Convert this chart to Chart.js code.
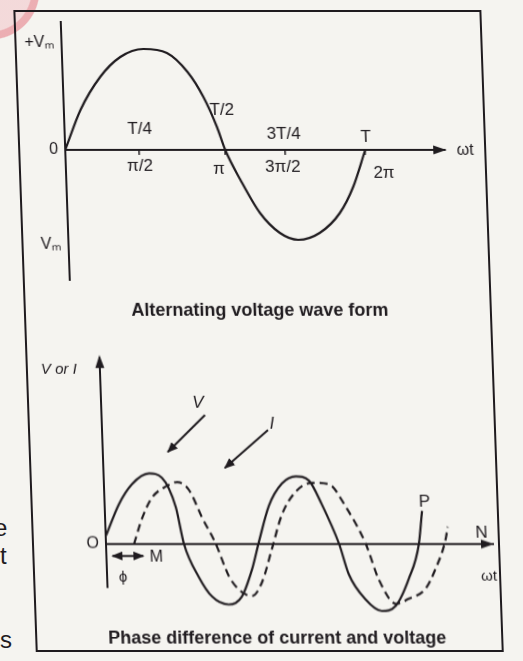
<!DOCTYPE html>
<html>
<head>
<meta charset="utf-8">
<title>AC wave forms</title>
<script src="https://cdn.jsdelivr.net/npm/chart.js@4.4.1/dist/chart.umd.min.js"></script>
<style>
  html, body { margin: 0; padding: 0; background: #f5f4f0; }
  body { width: 523px; height: 661px; overflow: hidden; position: relative;
         font-family: 'Liberation Sans', Arial, sans-serif; color: #1f1b1f; }
  #sheet { position: absolute; left: 0; top: 0; width: 523px; height: 661px;
           transform: skewX(2deg); transform-origin: 0 0; }
  #frame { position: absolute; left: 13px; top: 10px; width: 464px; height: 638px;
           border: 2px solid #1f1b1f; }
  canvas { position: absolute; left: 0; }
  #wave { top: 0; }
  #phase { top: 330px; }
  .lbl { position: absolute; transform: translate(-50%, -50%); white-space: nowrap; line-height: 1; }
  .it { font-style: italic; }
  .cap { font-weight: bold; font-size: 18px; }
  #marks { position: absolute; left: 0; top: 0; }
  .edge { position: absolute; left: 0; font-size: 24px; line-height: 1; }
  #blot { position: absolute; left: -60px; top: -60px; width: 100px; height: 100px; border-radius: 50%;
          background: radial-gradient(circle, rgba(242,196,200,0.55) 0 58%, rgba(230,128,138,0.6) 60% 69%, rgba(230,128,138,0) 71%); }
</style>
</head>
<body>
<div id="blot"></div>
<div class="edge" style="left:-6px; top:516px;">e</div>
<div class="edge" style="top:544px;">t</div>
<div class="edge" style="top:628px;">s</div>

<div id="sheet">
  <div id="frame"></div>
  <canvas id="wave" width="523" height="300"></canvas>
  <canvas id="phase" width="523" height="300"></canvas>

  <svg id="marks" width="523" height="661">
    <defs>
      <marker id="head" markerUnits="userSpaceOnUse" markerWidth="11" markerHeight="9" refX="10" refY="4.5" orient="auto-start-reverse">
        <path d="M0,0 L11,4.5 L0,9 z" fill="#1f1b1f"/>
      </marker>
    </defs>
    <g stroke="#1f1b1f" stroke-width="2" fill="none">
      <line x1="190.5" y1="415" x2="152" y2="452" marker-end="url(#head)"/>
      <line x1="253" y1="430" x2="208.5" y2="468" marker-end="url(#head)"/>
      <line x1="93" y1="556" x2="124" y2="556" marker-start="url(#head)" marker-end="url(#head)"/>
    </g>
  </svg>

  <div class="lbl" style="left:460px; top:150px; font-size:16px;">ωt</div>
  <div class="lbl cap" style="left:249px; top:310px;">Alternating voltage wave form</div>

  <div class="lbl it" style="left:46px; top:368px; font-size:15px;">V or I</div>
  <div class="lbl it" style="left:184px; top:402px; font-size:17px;">V</div>
  <div class="lbl it" style="left:257px; top:423px; font-size:17px;">I</div>
  <div class="lbl" style="left:137px; top:557px; font-size:16px;">M</div>
  <div class="lbl" style="left:103px; top:576px; font-size:15px;">ϕ</div>
  <div class="lbl" style="left:407px; top:501px; font-size:17px;">P</div>
  <div class="lbl" style="left:463px; top:532px; font-size:17px;">N</div>
  <div class="lbl" style="left:469px; top:575px; font-size:15px;">ωt</div>
  <div class="lbl cap" style="left:255px; top:638px;">Phase difference of current and voltage</div>
</div>

<script>
const INK = '#1f1b1f';

// one cycle of the alternating voltage: phase (degrees, as drawn) and value in units of Vm
const waveDeg = [0, 20, 45, 70, 98, 126, 150, 168, 183, 192, 209, 231, 254, 276, 302, 327, 344, 360];
const waveV = [0, 0.40, 0.73, 0.93, 1.01, 0.97, 0.78, 0.53, 0.23, 0, -0.30, -0.63, -0.83, -0.90, -0.83, -0.63, -0.37, 0];

// quarter-period marks on the time axis
const tickAt = [89, 192, 264, 360];
const periodLabels = ['T/4', 'T/2', '3T/4', 'T'];
const angleLabels = ['π/2', 'π', '3π/2', '2π'];

// levels marked on the voltage axis
const levelAt = [1.07, 0, -0.95];
const levelLabels = ['+Vₘ', '0', 'Vₘ'];

// voltage (solid) and the current lagging behind it by ϕ (dashed)
const voltDeg = [1, 33, 65, 106, 135, 165, 181, 213, 242, 280, 311, 337, 355, 381, 413, 446, 476, 504, 541, 561, 598, 635, 667, 700, 726, 736];
const voltVal = [0.12, 0.55, 0.83, 0.98, 0.92, 0.51, 0, -0.46, -0.73, -0.84, -0.73, -0.35, 0.03, 0.53, 0.84, 0.94, 0.88, 0.55, 0, -0.42, -0.77, -0.93, -0.86, -0.48, 0, 0.46];
const currDeg = [65, 86, 110, 144, 170, 197, 225, 255, 283, 312, 335, 359, 385, 410, 445, 483, 522, 560, 603, 630, 668, 698, 738, 763, 789, 794];
const currVal = [0, 0.36, 0.64, 0.80, 0.86, 0.75, 0.37, 0, -0.45, -0.67, -0.72, -0.53, -0.06, 0.40, 0.73, 0.85, 0.83, 0.51, 0, -0.49, -0.83, -0.76, -0.62, -0.34, 0.08, 0.24];
const phaseLevelAt = [0];
const phaseLevelLabels = ['O'];

Chart.defaults.font.family = "'Liberation Sans', Arial, sans-serif";
Chart.defaults.color = INK;

const toXY = (xs, ys) => xs.map((x, i) => ({ x, y: ys[i] }));

// arrow tips at the end of the time axis (and on top of the value axis if asked)
const arrowHeads = {
  id: 'arrowHeads',
  afterDraw(chart, args, opts) {
    const { ctx, chartArea: a, scales } = chart;
    const y0 = scales.y.getPixelForValue(0);
    ctx.save();
    ctx.fillStyle = INK;
    ctx.beginPath();
    ctx.moveTo(a.right + 1, y0);
    ctx.lineTo(a.right - 12, y0 - 4.5);
    ctx.lineTo(a.right - 12, y0 + 4.5);
    ctx.closePath();
    ctx.fill();
    if (opts.up) {
      ctx.beginPath();
      ctx.moveTo(a.left, a.top - 3);
      ctx.lineTo(a.left - 4.5, a.top + 10);
      ctx.lineTo(a.left + 4.5, a.top + 10);
      ctx.closePath();
      ctx.fill();
    }
    ctx.restore();
  }
};

// period and angle names written above / below each tick of the time axis
const tickNotes = {
  id: 'tickNotes',
  afterDraw(chart, args, opts) {
    if (!opts.rows) return;
    const { ctx, scales: { x, y } } = chart;
    const y0 = y.getPixelForValue(0);
    ctx.save();
    ctx.fillStyle = INK;
    ctx.font = opts.font;
    ctx.textAlign = 'center';
    ctx.textBaseline = 'middle';
    opts.rows.forEach(row => {
      row.labels.forEach((t, i) => {
        const [dx, dy] = row.nudge[i];
        ctx.fillText(t, x.getPixelForValue(tickAt[i]) + dx, y0 + dy);
      });
    });
    ctx.restore();
  }
};

// value axis with a fixed 40px label strip, so the plot area lands where it should
function valueAxis(min, max, at, labels) {
  return {
    min, max,
    afterFit: s => { s.width = 40; },
    afterBuildTicks: s => { s.ticks = at.map(v => ({ value: v })); },
    ticks: { padding: 7, font: { size: 16 }, callback: (v, i) => labels[i] },
    grid: { display: false, drawTicks: false },
    border: { color: INK, width: 2 }
  };
}

new Chart(document.getElementById('wave'), {
  type: 'line',
  data: {
    datasets: [{
      data: toXY(waveDeg, waveV),
      borderColor: INK, borderWidth: 2.2, pointRadius: 0,
      cubicInterpolationMode: 'monotone', fill: false
    }]
  },
  options: {
    responsive: false, animation: false, events: [],
    layout: { padding: { left: 20, top: 22, right: 83, bottom: 20 } },
    plugins: {
      legend: { display: false },
      tooltip: { enabled: false },
      tickNotes: {
        font: "17px 'Liberation Sans', Arial, sans-serif",
        rows: [
          { labels: periodLabels, nudge: [[1, -21], [-2, -40], [-1, -16], [1, -13]] },
          { labels: angleLabels, nudge: [[0, 16], [-7, 19], [-3, 17], [18, 23]] }
        ]
      }
    },
    scales: {
      x: {
        type: 'linear', min: 0, max: 456,
        position: { y: 0 },
        afterFit: s => { s.height = 0; },
        afterBuildTicks: s => { s.ticks = tickAt.map(v => ({ value: v })); },
        ticks: { display: false },
        grid: { drawOnChartArea: false, tickLength: 4, color: INK, lineWidth: 1.5 },
        border: { color: INK, width: 2 }
      },
      y: valueAxis(-1.30, 1.28, levelAt, levelLabels)
    }
  },
  plugins: [arrowHeads, tickNotes]
});

new Chart(document.getElementById('phase'), {
  type: 'line',
  data: {
    datasets: [
      {
        label: 'V',
        data: toXY(voltDeg, voltVal),
        borderColor: INK, borderWidth: 2.2, pointRadius: 0,
        cubicInterpolationMode: 'monotone', fill: false, clip: false
      },
      {
        label: 'I',
        data: toXY(currDeg, currVal),
        borderColor: INK, borderWidth: 2.2, borderDash: [8, 5], pointRadius: 0,
        cubicInterpolationMode: 'monotone', fill: false, clip: false
      }
    ]
  },
  options: {
    responsive: false, animation: false, events: [],
    layout: { padding: { left: 47, top: 28, right: 49, bottom: 43 } },
    plugins: {
      legend: { display: false },
      tooltip: { enabled: false },
      arrowHeads: { up: true }
    },
    scales: {
      x: {
        type: 'linear', min: 0, max: 898,
        position: { y: 0 },
        afterFit: s => { s.height = 0; },
        ticks: { display: false },
        grid: { display: false, drawTicks: false },
        border: { color: INK, width: 2 }
      },
      y: valueAxis(-0.597, 2.583, phaseLevelAt, phaseLevelLabels)
    }
  },
  plugins: [arrowHeads]
});
</script>
</body>
</html>
